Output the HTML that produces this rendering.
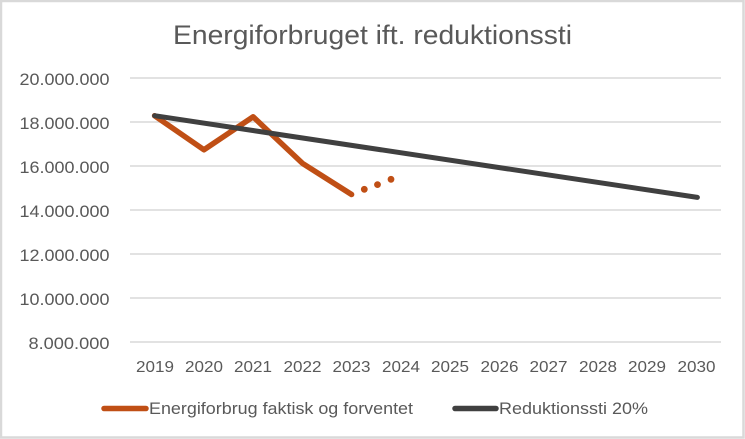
<!DOCTYPE html>
<html>
<head>
<meta charset="utf-8">
<style>
  html,body{margin:0;padding:0;background:#fff;}
  body{width:745px;height:439px;overflow:hidden;}
  svg{display:block;}
  text{font-family:"Liberation Sans",sans-serif;fill:#595959;}
</style>
</head>
<body>
<svg width="745" height="439" viewBox="0 0 745 439" xmlns="http://www.w3.org/2000/svg">
  <rect x="0" y="0" width="745" height="439" fill="#ffffff"/>
  <rect x="1" y="1" width="742.5" height="436.5" fill="none" stroke="#d9d9d9" stroke-width="2.5"/>

  <!-- title -->
  <text x="173" y="44" font-size="26.5" textLength="399" lengthAdjust="spacingAndGlyphs">Energiforbruget ift. reduktionssti</text>

  <!-- gridlines -->
  <g stroke="#d9d9d9" stroke-width="1.5">
    <line x1="130" y1="78" x2="721" y2="78"/>
    <line x1="130" y1="122" x2="721" y2="122"/>
    <line x1="130" y1="166" x2="721" y2="166"/>
    <line x1="130" y1="210" x2="721" y2="210"/>
    <line x1="130" y1="254" x2="721" y2="254"/>
    <line x1="130" y1="298" x2="721" y2="298"/>
    <line x1="130" y1="342" x2="721" y2="342"/>
  </g>

  <!-- y labels -->
  <g font-size="17" text-anchor="end">
    <text x="109.5" y="85" textLength="90" lengthAdjust="spacingAndGlyphs">20.000.000</text>
    <text x="109.5" y="129" textLength="90" lengthAdjust="spacingAndGlyphs">18.000.000</text>
    <text x="109.5" y="173" textLength="90" lengthAdjust="spacingAndGlyphs">16.000.000</text>
    <text x="109.5" y="217" textLength="90" lengthAdjust="spacingAndGlyphs">14.000.000</text>
    <text x="109.5" y="261" textLength="90" lengthAdjust="spacingAndGlyphs">12.000.000</text>
    <text x="109.5" y="305" textLength="90" lengthAdjust="spacingAndGlyphs">10.000.000</text>
    <text x="109.5" y="349" textLength="81" lengthAdjust="spacingAndGlyphs">8.000.000</text>
  </g>

  <!-- x labels -->
  <g font-size="16" text-anchor="middle">
    <text x="155" y="372" textLength="38" lengthAdjust="spacingAndGlyphs">2019</text>
    <text x="204" y="372" textLength="38" lengthAdjust="spacingAndGlyphs">2020</text>
    <text x="253" y="372" textLength="38" lengthAdjust="spacingAndGlyphs">2021</text>
    <text x="302.5" y="372" textLength="38" lengthAdjust="spacingAndGlyphs">2022</text>
    <text x="351.5" y="372" textLength="38" lengthAdjust="spacingAndGlyphs">2023</text>
    <text x="401" y="372" textLength="38" lengthAdjust="spacingAndGlyphs">2024</text>
    <text x="450" y="372" textLength="38" lengthAdjust="spacingAndGlyphs">2025</text>
    <text x="499.5" y="372" textLength="38" lengthAdjust="spacingAndGlyphs">2026</text>
    <text x="548.5" y="372" textLength="38" lengthAdjust="spacingAndGlyphs">2027</text>
    <text x="598" y="372" textLength="38" lengthAdjust="spacingAndGlyphs">2028</text>
    <text x="647" y="372" textLength="38" lengthAdjust="spacingAndGlyphs">2029</text>
    <text x="696.5" y="372" textLength="38" lengthAdjust="spacingAndGlyphs">2030</text>
  </g>

  <!-- orange series -->
  <polyline points="154.6,115.7 203.9,149.8 253.1,116.8 302.4,163.3 351.6,194.5" fill="none" stroke="#C04F15" stroke-width="5.5" stroke-linejoin="round" stroke-linecap="round"/>
  <g fill="#C04F15">
    <circle cx="364.3" cy="189.3" r="3.4"/>
    <circle cx="377.5" cy="184.6" r="3.4"/>
    <circle cx="391" cy="179.3" r="3.4"/>
  </g>

  <!-- black series -->
  <line x1="154.6" y1="115.7" x2="697.4" y2="197.4" stroke="#404040" stroke-width="5" stroke-linecap="round"/>

  <!-- legend -->
  <line x1="104" y1="408.5" x2="146" y2="408.5" stroke="#C04F15" stroke-width="5.5" stroke-linecap="round"/>
  <text x="149" y="414" font-size="16.5" textLength="264" lengthAdjust="spacingAndGlyphs">Energiforbrug faktisk og forventet</text>
  <line x1="455" y1="408.5" x2="496" y2="408.5" stroke="#404040" stroke-width="5.5" stroke-linecap="round"/>
  <text x="499" y="414" font-size="16.5" textLength="149" lengthAdjust="spacingAndGlyphs">Reduktionssti 20%</text>
</svg>
</body>
</html>
